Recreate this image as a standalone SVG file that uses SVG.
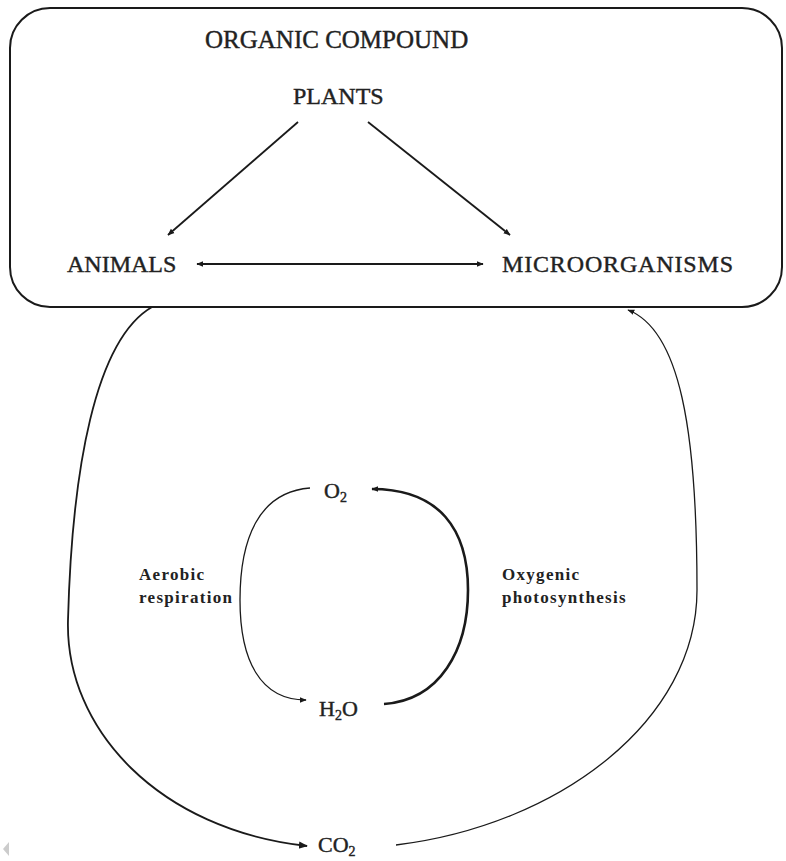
<svg xmlns="http://www.w3.org/2000/svg" width="786" height="861" viewBox="0 0 786 861">
<defs>
<style>
.t{font-family:"Liberation Serif","Times New Roman",serif;fill:#222;stroke:#222;stroke-width:0.4}
.big{font-size:24px}
.lab{font-size:17px;font-weight:bold;letter-spacing:1.3px;stroke-width:0}
.ln{fill:none;stroke:#1a1a1a;stroke-width:1.8}
.thin{stroke-width:1.3}
.thick{stroke-width:2.6}
</style>
<marker id="ah" viewBox="0 0 10 10" refX="9" refY="5" markerWidth="7" markerHeight="7" markerUnits="userSpaceOnUse" orient="auto-start-reverse">
<path d="M0,1 L10,5 L0,9 Z" fill="#1a1a1a"/>
</marker>
<marker id="ah2" viewBox="0 0 10 10" refX="9" refY="5" markerWidth="9" markerHeight="9" markerUnits="userSpaceOnUse" orient="auto-start-reverse">
<path d="M0,1 L10,5 L0,9 Z" fill="#1a1a1a"/>
</marker>
</defs>
<rect width="786" height="861" fill="#fff"/>
<g id="organic-compound">
<rect x="10" y="8" width="772" height="299" rx="40" ry="40" fill="none" stroke="#1a1a1a" stroke-width="2"/>
<text class="t" x="205" y="48" style="font-size:25px">ORGANIC COMPOUND</text>
</g>
<g id="plants"><text class="t big" x="293" y="104">PLANTS</text></g>
<g id="animals"><text class="t big" x="67" y="272">ANIMALS</text></g>
<g id="microorganisms"><text class="t big" x="502" y="272" textLength="231">MICROORGANISMS</text></g>
<g id="o2"><text class="t" x="324" y="498" style="font-size:22px">O<tspan dy="4" style="font-size:14px">2</tspan></text></g>
<g id="h2o"><text class="t" x="319" y="716" style="font-size:22px">H<tspan dy="4" style="font-size:14px">2</tspan><tspan dy="-4">O</tspan></text></g>
<g id="co2"><text class="t" x="318" y="852" style="font-size:22px">CO<tspan dy="4" style="font-size:14px">2</tspan></text></g>
<g id="aerobic"><text class="t lab" x="139" y="580">Aerobic</text><text class="t lab" x="139" y="603">respiration</text></g>
<g id="oxygenic"><text class="t lab" x="502" y="580">Oxygenic</text><text class="t lab" x="502" y="603">photosynthesis</text></g>
<g id="connectors">
<line class="ln" x1="298" y1="122" x2="168" y2="235" marker-end="url(#ah)"/>
<line class="ln" x1="368" y1="122" x2="510" y2="235" marker-end="url(#ah)"/>
<line class="ln" x1="197" y1="264" x2="483" y2="264" marker-start="url(#ah)" marker-end="url(#ah)"/>
<path class="ln" d="M152,307 C95,340 72,470 68,620 C65,730 160,830 307,846" marker-end="url(#ah2)"/>
<path class="ln thin" d="M396,845 C560,825 697,720 697,590 C697,430 680,330 628,310" marker-end="url(#ah)"/>
<path class="ln thin" d="M310,488 C258,492 240,540 240,600 C240,660 260,700 306,700" marker-end="url(#ah)"/>
<path class="ln thick" d="M384,704 C440,700 468,650 468,590 C468,530 440,489 372,489" marker-end="url(#ah)"/>
</g>
<polygon points="9,842 9,856 3,849" fill="#ccc"/>
</svg>
